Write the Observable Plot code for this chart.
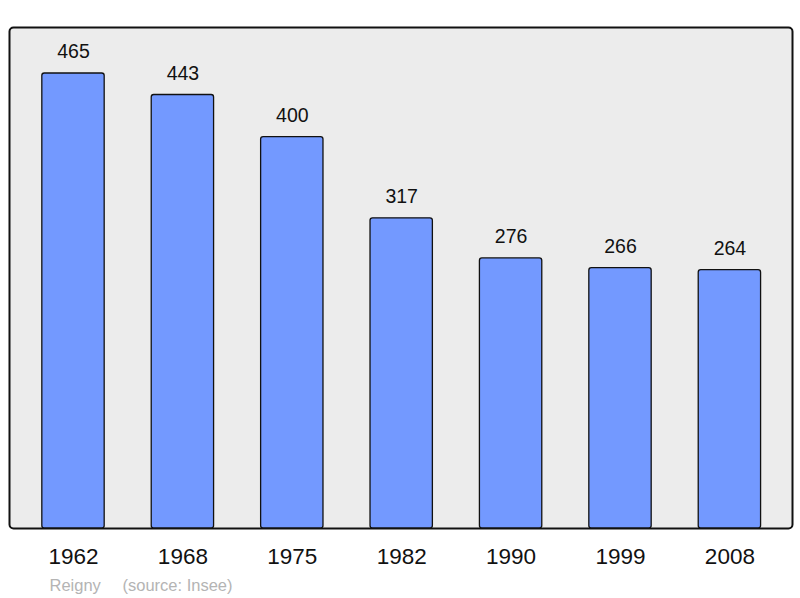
<!DOCTYPE html>
<html><head><meta charset="utf-8">
<script src="https://cdn.jsdelivr.net/npm/d3@7"></script>
<script src="https://cdn.jsdelivr.net/npm/@observablehq/plot@0.6"></script>
<style>body{margin:0;background:#fff;} svg{display:block;}</style>
</head><body><div id="chart"></div>
<script>
const years = ["1962","1968","1975","1982","1990","1999","2008"];
const population = [465, 443, 400, 317, 276, 266, 264];
const commune = "Reigny";
const source = "(source: Insee)";

const data = years.map((y, i) => ({year: y, pop: population[i]}));

const chart = Plot.plot({
  width: 800,
  height: 598,
  marginLeft: 9,
  marginRight: 8,
  marginTop: 27,
  marginBottom: 70,
  style: {fontFamily: "Liberation Sans, Arial, sans-serif", background: "#fff"},
  x: {domain: years, round: false, paddingInner: 0.43, paddingOuter: 0.215, insetLeft: 9.3, insetRight: 7.9, label: null},
  y: {domain: [0, 512], axis: null},
  marks: [
    Plot.frame({fill: "#ececec", stroke: "#111", strokeWidth: 2, rx: 4}),
    Plot.barY(data, {x: "year", y: "pop", fill: "#7399ff", stroke: "#111", strokeWidth: 1.3, rx: 2.5}),
    Plot.text(data, {x: "year", y: "pop", text: d => String(d.pop), dy: -15, lineAnchor: "bottom", fontSize: 19.5, fill: "#111"}),
    Plot.axisX({tickSize: 0, tickPadding: 20, fontSize: 22.5, label: null, fill: "#111"}),
    Plot.text([commune], {frameAnchor: "bottom-left", text: d => d, dx: 40, dy: 62, textAnchor: "start", lineAnchor: "bottom", fontSize: 16.5, fill: "#b4b4b4"}),
    Plot.text([source], {frameAnchor: "bottom-left", text: d => d, dx: 113, dy: 62, textAnchor: "start", lineAnchor: "bottom", fontSize: 16.5, fill: "#b4b4b4"})
  ]
});
document.getElementById("chart").appendChild(chart);
</script>
</body></html>
